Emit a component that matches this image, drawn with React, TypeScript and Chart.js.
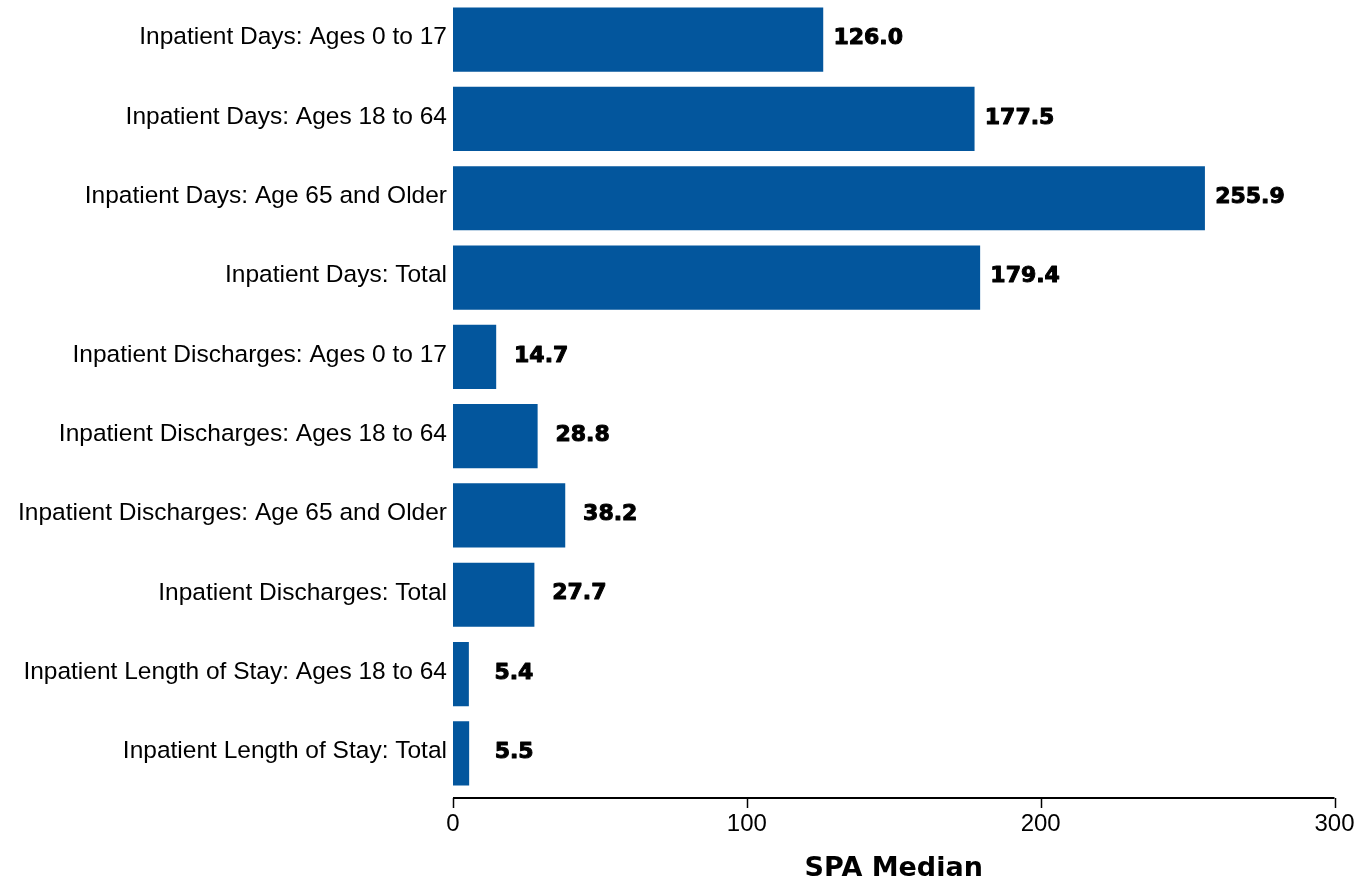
import React, { useEffect, useRef } from "react";
import { Chart, registerables } from "chart.js";

Chart.register(...registerables);

const categories = [
  "Inpatient Days: Ages 0 to 17",
  "Inpatient Days: Ages 18 to 64",
  "Inpatient Days: Age 65 and Older",
  "Inpatient Days: Total",
  "Inpatient Discharges: Ages 0 to 17",
  "Inpatient Discharges: Ages 18 to 64",
  "Inpatient Discharges: Age 65 and Older",
  "Inpatient Discharges: Total",
  "Inpatient Length of Stay: Ages 18 to 64",
  "Inpatient Length of Stay: Total",
];

const spaMedian = [126.0, 177.5, 255.9, 179.4, 14.7, 28.8, 38.2, 27.7, 5.4, 5.5];

const xTicks = [0, 100, 200, 300];

const axisTitle = "SPA Median";

const BAR_COLOR = "#03569D";

const valueLabelPlugin = {
  id: "valueLabels",
  afterDatasetsDraw(chart: any) {
    const ctx = chart.ctx;
    const meta = chart.getDatasetMeta(0);
    const data = chart.data.datasets[0].data as number[];
    ctx.save();
    ctx.font = "bold 22px 'DejaVu Sans'";
    ctx.fillStyle = "#000";
    ctx.strokeStyle = "#000";
    ctx.lineWidth = 1;
    ctx.lineJoin = "round";
    ctx.textAlign = "center";
    ctx.textBaseline = "middle";
    meta.data.forEach((bar: any, i: number) => {
      const t = data[i].toFixed(1);
      ctx.fillText(t, bar.x + 45, bar.y - 1);
      ctx.strokeText(t, bar.x + 45, bar.y - 1);
    });
    ctx.restore();
  },
};

const axisLinePlugin = {
  id: "axisLine",
  afterDraw(chart: any) {
    const ctx = chart.ctx;
    const xs = chart.scales.x;
    const area = chart.chartArea;
    const y = area.bottom + 5;
    ctx.save();
    ctx.strokeStyle = "#000";
    ctx.lineWidth = 2;
    ctx.beginPath();
    ctx.moveTo(xs.getPixelForValue(xTicks[0]), y);
    ctx.lineTo(xs.getPixelForValue(xTicks[xTicks.length - 1]), y);
    ctx.stroke();
    ctx.lineWidth = 1.5;
    xTicks.forEach((t) => {
      const px = Math.round(xs.getPixelForValue(t)) + 0.5;
      ctx.beginPath();
      ctx.moveTo(px, y);
      ctx.lineTo(px, y + 10);
      ctx.stroke();
    });
    ctx.restore();
  },
};

export default function App() {
  const ref = useRef<HTMLCanvasElement>(null);

  useEffect(() => {
    if (!ref.current) return;
    const chart = new Chart(ref.current, {
      type: "bar",
      data: {
        labels: categories,
        datasets: [
          {
            data: spaMedian,
            backgroundColor: BAR_COLOR,
            borderWidth: 0,
            categoryPercentage: 1,
            barPercentage: 0.81,
          },
        ],
      },
      options: {
        indexAxis: "y",
        responsive: false,
        animation: false,
        maintainAspectRatio: false,
        layout: { padding: { left: 0, right: 22.5, top: 0, bottom: 0 } },
        plugins: {
          legend: { display: false },
          tooltip: { enabled: false },
          title: { display: false },
        },
        scales: {
          x: {
            type: "linear",
            min: 0,
            max: 300,
            afterBuildTicks: (scale: any) => {
              scale.ticks = xTicks.map((v) => ({ value: v }));
            },
            afterFit: (scale: any) => {
              scale.height = 86;
              scale.paddingLeft = 0;
              scale.paddingRight = 0;
            },
            grid: { display: false, drawTicks: false },
            border: { display: false },
            ticks: {
              color: "#000",
              padding: 17,
              font: { family: "'Liberation Sans', Arial, sans-serif", size: 24 },
              maxRotation: 0,
            },
            title: {
              display: true,
              text: axisTitle,
              color: "#000",
              font: { family: "'DejaVu Sans'", size: 27, weight: "bold", lineHeight: 0.75 },
              padding: { top: 0, bottom: 0 },
            },
          },
          y: {
            type: "category",
            offset: true,
            afterFit: (scale: any) => {
              scale.width = 453;
              scale.paddingTop = 0;
              scale.paddingBottom = 0;
            },
            grid: { display: false, drawTicks: false },
            border: { display: false },
            ticks: {
              color: "#000",
              padding: 6,
              autoSkip: false,
              labelOffset: -2,
              font: { family: "'Liberation Sans', Arial, sans-serif", size: 24.5 },
            },
          },
        },
      },
      plugins: [valueLabelPlugin, axisLinePlugin],
    });
    return () => chart.destroy();
  }, []);

  return (
    <div style={{ position: "absolute", left: 0, top: 0, width: 1357, height: 879, background: "#fff" }}>
      <canvas ref={ref} width={1357} height={879} style={{ display: "block" }} />
    </div>
  );
}
